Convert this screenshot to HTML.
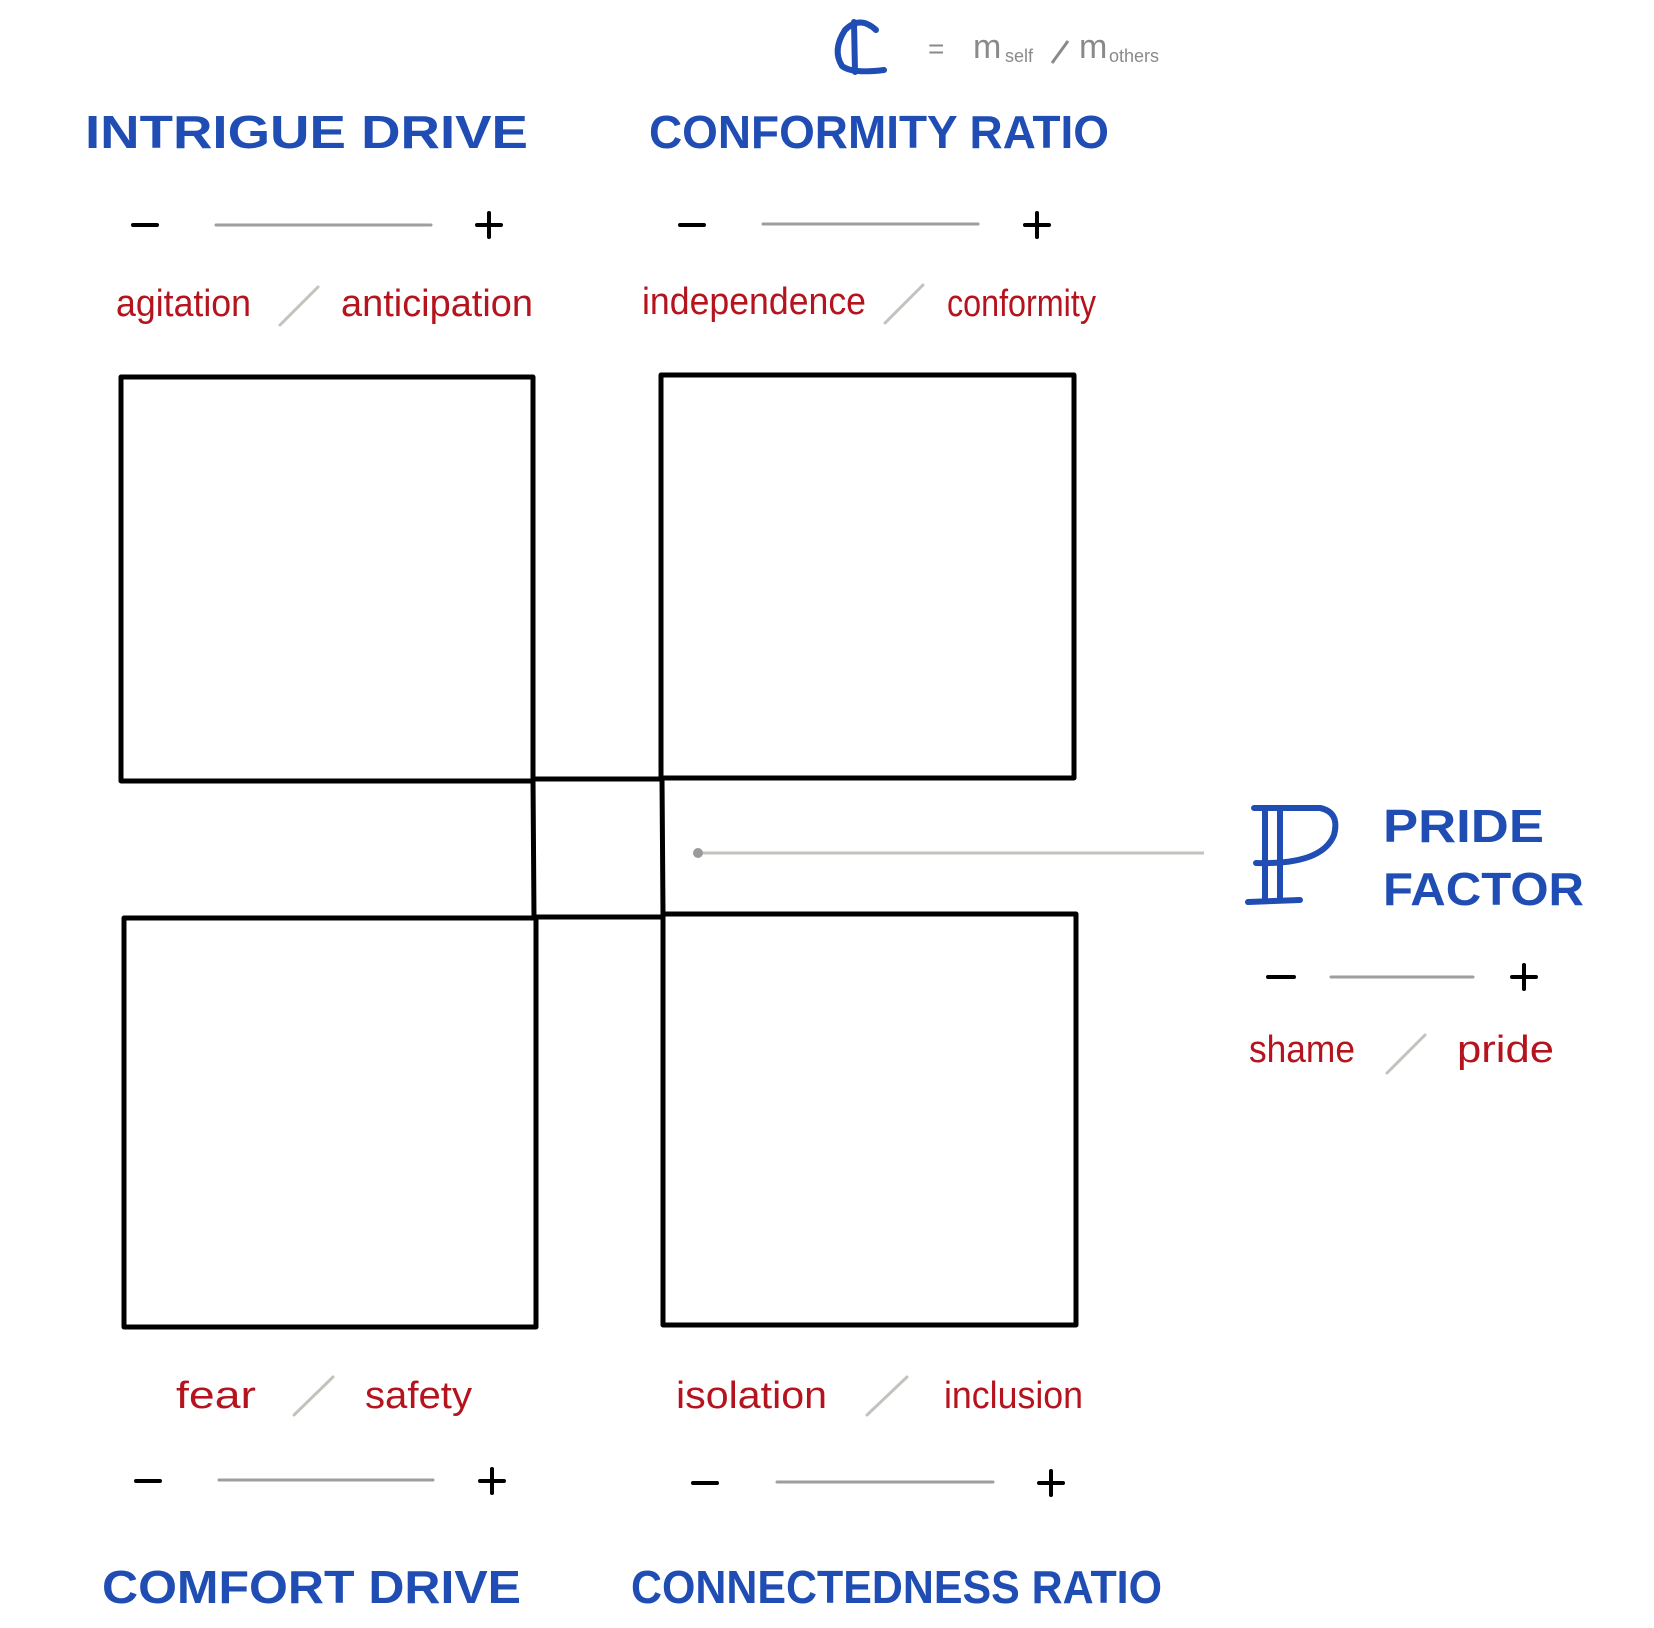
<!DOCTYPE html>
<html><head><meta charset="utf-8"><style>
html,body{margin:0;padding:0;background:#fff;}
svg{display:block;}
.t{font-family:"Liberation Sans",sans-serif;fill:#1f4db3;font-size:46px;font-weight:bold;}
.r{font-family:"Liberation Sans",sans-serif;fill:#b5141e;font-size:38px;}
</style></head><body>
<svg width="1654" height="1628" viewBox="0 0 1654 1628" xmlns="http://www.w3.org/2000/svg">
<g fill="none" stroke="#000" stroke-width="5" stroke-linejoin="round">
<rect x="121" y="377" width="412" height="404"/>
<rect x="661" y="375" width="413" height="403"/>
<rect x="124" y="918" width="412" height="409"/>
<rect x="663" y="914" width="413" height="411"/>
<line x1="533" y1="779" x2="663" y2="779"/>
<line x1="533" y1="917" x2="663" y2="917"/>
<line x1="533" y1="779" x2="534" y2="918"/>
<line x1="662" y1="778" x2="663" y2="914"/>
</g>
<line x1="698" y1="853" x2="1204" y2="853" stroke="#c4c2bc" stroke-width="3"/>
<circle cx="698" cy="853" r="5" fill="#9a9a9a"/>

<text class="t" x="85" y="148" textLength="443" lengthAdjust="spacingAndGlyphs">INTRIGUE  DRIVE</text>
<text class="t" x="649" y="148" textLength="460" lengthAdjust="spacingAndGlyphs">CONFORMITY  RATIO</text>
<text class="t" x="102" y="1603" textLength="419" lengthAdjust="spacingAndGlyphs">COMFORT  DRIVE</text>
<text class="t" x="631" y="1603" textLength="531" lengthAdjust="spacingAndGlyphs">CONNECTEDNESS  RATIO</text>
<text class="t" x="1383" y="842" textLength="161" lengthAdjust="spacingAndGlyphs">PRIDE</text>
<text class="t" x="1383" y="905" textLength="201" lengthAdjust="spacingAndGlyphs">FACTOR</text>

<g fill="none" stroke="#1f4db3" stroke-width="6" stroke-linecap="round">
<path d="M1254 808 L1320 808 Q1340 812 1334 835 Q1322 865 1256 863"/>
<line x1="1265" y1="808" x2="1265" y2="900"/>
<line x1="1280" y1="808" x2="1280" y2="900"/>
<path d="M1248 902 L1300 900"/>
</g>
<g fill="none" stroke="#1f4db3" stroke-width="6" stroke-linecap="round">
<path d="M876 30 Q860 15 845 30 Q832 50 842 66 Q852 74 884 70"/>
<line x1="854" y1="22" x2="855" y2="72"/>
</g>
<g font-family="Liberation Sans,sans-serif" fill="#8a8a8a">
<text x="928" y="58" font-size="28">=</text>
<text x="973" y="58" font-size="34">m</text>
<text x="1005" y="62" font-size="18">self</text>
<line x1="1052" y1="63" x2="1068" y2="41" stroke="#8a8a8a" stroke-width="3"/>
<text x="1079" y="58" font-size="34">m</text>
<text x="1109" y="62" font-size="18">others</text>
</g>

<g stroke="#000" stroke-width="4" stroke-linecap="round">
<line x1="133" y1="225" x2="157" y2="225"/><line x1="477" y1="225" x2="501" y2="225"/><line x1="489" y1="213" x2="489" y2="237"/>
<line x1="680" y1="225" x2="704" y2="225"/><line x1="1025" y1="225" x2="1049" y2="225"/><line x1="1037" y1="213" x2="1037" y2="237"/>
<line x1="136" y1="1481" x2="160" y2="1481"/><line x1="480" y1="1481" x2="504" y2="1481"/><line x1="492" y1="1469" x2="492" y2="1493"/>
<line x1="693" y1="1483" x2="717" y2="1483"/><line x1="1039" y1="1483" x2="1063" y2="1483"/><line x1="1051" y1="1471" x2="1051" y2="1495"/>
<line x1="1268" y1="977" x2="1294" y2="977"/><line x1="1512" y1="977" x2="1536" y2="977"/><line x1="1524" y1="965" x2="1524" y2="989"/>
</g>
<g stroke="#9e9e9e" stroke-width="3" stroke-linecap="round">
<line x1="216" y1="225" x2="431" y2="225"/>
<line x1="763" y1="224" x2="978" y2="224"/>
<line x1="219" y1="1480" x2="433" y2="1480"/>
<line x1="777" y1="1482" x2="993" y2="1482"/>
<line x1="1331" y1="977" x2="1473" y2="977"/>
</g>
<g stroke="#c4c2bc" stroke-width="3" stroke-linecap="round">
<line x1="280" y1="325" x2="318" y2="287"/>
<line x1="885" y1="323" x2="923" y2="285"/>
<line x1="294" y1="1415" x2="333" y2="1377"/>
<line x1="867" y1="1415" x2="907" y2="1377"/>
<line x1="1387" y1="1073" x2="1425" y2="1035"/>
</g>

<text class="r" x="116" y="316" textLength="135" lengthAdjust="spacingAndGlyphs">agitation</text>
<text class="r" x="341" y="316" textLength="192" lengthAdjust="spacingAndGlyphs">anticipation</text>
<text class="r" x="642" y="314" textLength="224" lengthAdjust="spacingAndGlyphs">independence</text>
<text class="r" x="947" y="316" textLength="149" lengthAdjust="spacingAndGlyphs">conformity</text>
<text class="r" x="176" y="1408" textLength="80" lengthAdjust="spacingAndGlyphs">fear</text>
<text class="r" x="365" y="1408" textLength="107" lengthAdjust="spacingAndGlyphs">safety</text>
<text class="r" x="676" y="1408" textLength="151" lengthAdjust="spacingAndGlyphs">isolation</text>
<text class="r" x="944" y="1408" textLength="139" lengthAdjust="spacingAndGlyphs">inclusion</text>
<text class="r" x="1249" y="1062" textLength="106" lengthAdjust="spacingAndGlyphs">shame</text>
<text class="r" x="1457" y="1062" textLength="97" lengthAdjust="spacingAndGlyphs">pride</text>
</svg>
</body></html>
